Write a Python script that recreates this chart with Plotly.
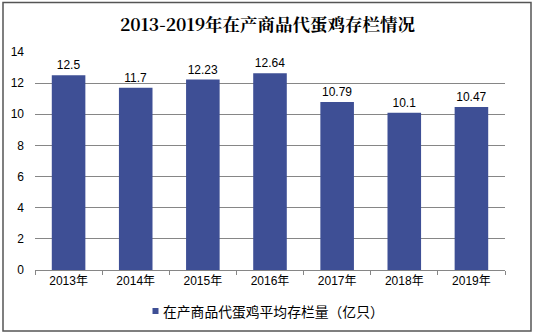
import plotly.graph_objects as go

years = ["2013年", "2014年", "2015年", "2016年", "2017年", "2018年", "2019年"]
stock = [12.5, 11.7, 12.23, 12.64, 10.79, 10.1, 10.47]
stock_labels = ["12.5", "11.7", "12.23", "12.64", "10.79", "10.1", "10.47"]
series_name = "在产商品代蛋鸡平均存栏量（亿只）"
y_ticks = [0, 2, 4, 6, 8, 10, 12, 14]

bar_color = "#3E4F95"

# Plot-area geometry in pixels, used to place the frame and legend key
W, H = 535, 335
ML, MR, MT, MB = 35, 30, 52, 65
PW, PH = W - ML - MR, H - MT - MB


def px_x(px):
    return (px - ML) / PW


def px_y(py):
    return (H - MB - py) / PH


fig = go.Figure()
fig.add_trace(go.Bar(
    x=years, y=stock, name=series_name,
    marker=dict(color=bar_color, line=dict(width=0)),
    width=0.5,
    text=stock_labels, textposition="outside",
    textfont=dict(size=12, color="#000000", family="Liberation Sans, Arial"),
    cliponaxis=False,
    showlegend=False,
))

fig.update_layout(
    width=W, height=H,
    margin=dict(l=ML, r=MR, t=MT, b=MB),
    paper_bgcolor="#FFFFFF", plot_bgcolor="#FFFFFF",
    title=dict(text="<b>2013-2019年在产商品代蛋鸡存栏情况</b>",
               x=0.5, xanchor="center", y=0.925, yanchor="middle",
               font=dict(size=17.5, color="#000000", family="Noto Serif CJK SC, Noto Sans CJK SC, serif")),
    font=dict(family="Liberation Sans, Arial, Noto Sans CJK SC", size=12, color="#000000"),
    showlegend=False,
    xaxis=dict(showline=True, linecolor="#868686", linewidth=1,
               ticks="outside", ticklen=4, tickcolor="#868686",
               tickson="boundaries", showgrid=False,
               tickfont=dict(size=12, family="Liberation Sans, Noto Sans CJK SC")),
    yaxis=dict(range=[0, 14], tickvals=y_ticks, showgrid=True, gridcolor="#868686",
               gridwidth=1, zeroline=False, showline=False,
               ticks="", tickfont=dict(size=12), ticklabelstandoff=10),
    shapes=[
        # outer chart frame
        dict(type="rect", xref="paper", yref="paper",
             x0=px_x(3), x1=px_x(531), y0=px_y(331), y1=px_y(2.5),
             line=dict(color="#555555", width=1.5), fillcolor="rgba(0,0,0,0)"),
        # legend key
        dict(type="rect", xref="paper", yref="paper",
             x0=px_x(152.5), x1=px_x(158.5), y0=px_y(314), y1=px_y(308),
             line=dict(width=0), fillcolor=bar_color),
    ],
    annotations=[
        dict(text=series_name, xref="paper", yref="paper",
             x=px_x(161), y=px_y(311), xanchor="left", yanchor="middle",
             showarrow=False,
             font=dict(size=13.8, color="#000000", family="Noto Sans CJK SC")),
    ],
)

fig.write_html("out.html")
